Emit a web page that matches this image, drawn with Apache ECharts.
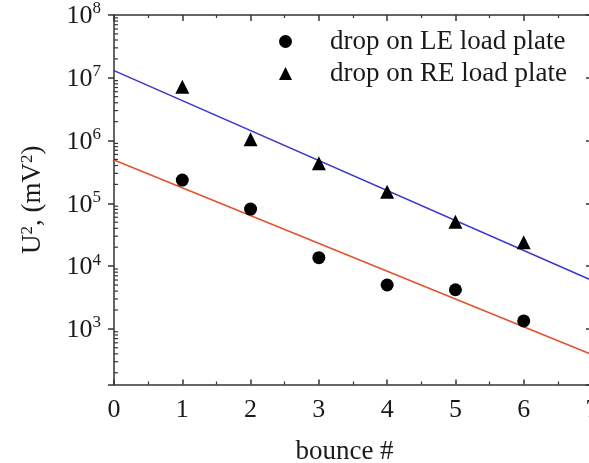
<!DOCTYPE html>
<html>
<head>
<meta charset="utf-8">
<script src="https://cdn.jsdelivr.net/npm/echarts@6/dist/echarts.min.js"></script>
<style>html,body{margin:0;padding:0;background:#fff}#c{width:589px;height:463px}</style>
</head>
<body>
<div id="c"></div>
<script>
// ---- data ----
var bounces = [1, 2, 3, 4, 5, 6];
var leValues = [2.35e5, 8.1e4, 1.36e4, 5.0e3, 4.2e3, 1.34e3];
var reValues = [7.2e6, 1.05e6, 4.35e5, 1.53e5, 5.1e4, 2.4e4];
var fitX = [0, 7];
var leFit = [4.9e5, 3.9e2];
var reFit = [1.3e7, 5.9e3];
var seriesNames = ['drop on LE load plate', 'drop on RE load plate'];
var xTicks = [0, 1, 2, 3, 4, 5, 6, 7];
var decades = [2, 3, 4, 5, 6, 7, 8];
var yMin = 130, yMax = 1e8;

var minorVals = [];
decades.forEach(function (d) {
  for (var k = 2; k <= 9; k++) {
    var v = k * Math.pow(10, d);
    if (v > yMin && v < yMax) minorVals.push(v);
  }
});

var FONT = '"Liberation Serif", "Times New Roman", serif';
var TXT = '#1a1a1a';
var AX = '#333';

function pairs(xs, ys) { return xs.map(function (x, i) { return [x, ys[i]]; }); }

function logLabel(v) {
  var p = Math.round(Math.log10(v));
  if (Math.abs(Math.log10(v) - p) > 1e-6) return '';
  return '{b|10}{s|' + p + '}';
}

var chart = echarts.init(document.getElementById('c'), null, {renderer: 'canvas'});
chart.setOption({
  animation: false,
  backgroundColor: '#fff',
  grid: {left: 114, top: 15, width: 478, height: 369.5, containLabel: false, outerBoundsMode: 'none'},
  legend: {
    data: [
      {name: seriesNames[0], icon: 'circle'},
      {name: seriesNames[1], icon: 'triangle'}
    ],
    orient: 'vertical',
    left: 274, top: 23,
    itemWidth: 13, itemHeight: 13, itemGap: 5,
    itemStyle: {color: '#000', opacity: 1},
    textStyle: {fontFamily: FONT, fontSize: 27, color: TXT, padding: [0, 0, 0, 33]}
  },
  xAxis: [{
    type: 'value', min: xTicks[0], max: xTicks[xTicks.length - 1], interval: 1,
    position: 'bottom',
    name: 'bounce #', nameLocation: 'middle', nameGap: 54,
    nameTextStyle: {fontFamily: FONT, fontSize: 27, color: TXT, padding: [0, 17, 0, 0]},
    axisLine: {show: true, onZero: false, lineStyle: {color: AX, width: 1.5}},
    axisTick: {show: true, inside: true, length: 5, lineStyle: {color: AX, width: 1.5}},
    minorTick: {show: true, splitNumber: 2, length: 3, lineStyle: {color: AX, width: 1.2}},
    axisLabel: {fontFamily: FONT, fontSize: 26, color: TXT, margin: 13},
    splitLine: {show: false}
  }, {
    type: 'value', min: xTicks[0], max: xTicks[xTicks.length - 1], interval: 1,
    position: 'top',
    axisLine: {show: true, onZero: false, lineStyle: {color: AX, width: 1.5}},
    axisTick: {show: true, inside: true, length: 6, lineStyle: {color: AX, width: 1.5}},
    minorTick: {show: true, splitNumber: 2, length: 3, lineStyle: {color: AX, width: 1.2}},
    axisLabel: {show: false},
    splitLine: {show: false}
  }],
  yAxis: [{
    type: 'log', logBase: 10, min: yMin, max: yMax,
    position: 'left',
    name: 'U{s|2}, (mV{s|2})', nameLocation: 'middle', nameGap: 68, nameRotate: 90,
    nameTextStyle: {fontFamily: FONT, fontSize: 27, color: TXT,
      rich: {s: {fontFamily: FONT, fontSize: 17, color: TXT, verticalAlign: 'top', lineHeight: 20}}},
    axisLine: {show: true, onZero: false, lineStyle: {color: AX, width: 1.5}},
    axisTick: {show: true, inside: false, length: 6, lineStyle: {color: AX, width: 1.5}},
    axisLabel: {
      margin: 13,
      formatter: logLabel,
      rich: {
        b: {fontFamily: FONT, fontSize: 26, color: TXT, verticalAlign: 'bottom', lineHeight: 29},
        s: {fontFamily: FONT, fontSize: 17, color: TXT, verticalAlign: 'top', lineHeight: 19}
      }
    },
    splitLine: {show: false}
  }, {
    type: 'log', logBase: 10, min: yMin, max: yMax,
    position: 'right',
    axisLine: {show: true, onZero: false, lineStyle: {color: AX, width: 1.5}},
    axisTick: {show: true, inside: true, length: 6, lineStyle: {color: AX, width: 1.5}},
    axisLabel: {show: false},
    splitLine: {show: false}
  }],
  series: [{
    name: 'LE fit', type: 'line', data: pairs(fitX, leFit), symbol: 'none',
    lineStyle: {color: '#e2532c', width: 1.5}, silent: true, z: 2
  }, {
    name: 'RE fit', type: 'line', data: pairs(fitX, reFit), symbol: 'none',
    lineStyle: {color: '#3a36cf', width: 1.5}, silent: true, z: 2
  }, {
    name: seriesNames[0], type: 'scatter', data: pairs(bounces, leValues),
    symbol: 'circle', symbolSize: 13, itemStyle: {color: '#000', opacity: 1}, z: 3
  }, {
    name: seriesNames[1], type: 'scatter', data: pairs(bounces, reValues),
    symbol: 'triangle', symbolSize: 14, itemStyle: {color: '#000', opacity: 1}, z: 3
  }, {
    name: 'minor', type: 'custom', silent: true, clip: false, z: 4,
    data: minorVals.map(function (v) { return [xTicks[0], v]; }),
    renderItem: function (params, api) {
      var p = api.coord([api.value(0), api.value(1)]);
      return {type: 'line', shape: {x1: p[0], y1: p[1], x2: p[0] + 4, y2: p[1]},
        style: {stroke: AX, lineWidth: 1.2}};
    }
  }]
});
</script>
</body>
</html>
